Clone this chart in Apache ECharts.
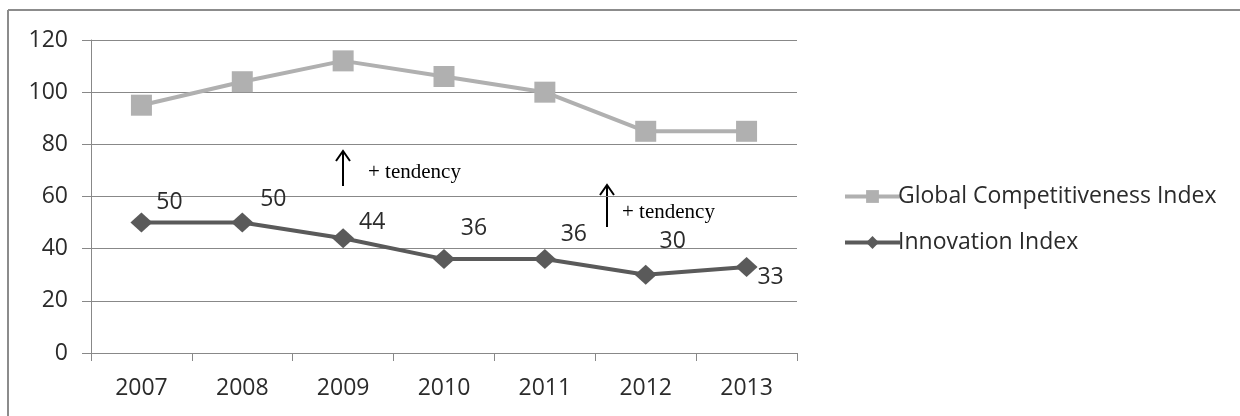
<!DOCTYPE html>
<html>
<head>
<meta charset="utf-8">
<script src="https://cdn.jsdelivr.net/npm/echarts@6/dist/echarts.min.js"></script>
<style>
  html, body { margin: 0; padding: 0; background: #fff; }
  #chart { width: 1240px; height: 416px; }
</style>
</head>
<body>
<div id="chart"></div>
<script>
const years = ['2007', '2008', '2009', '2010', '2011', '2012', '2013']
const gciValues = [95, 104, 112, 106, 100, 85, 85]
const innovationValues = [50, 50, 44, 36, 36, 30, 33]
const yTicks = [0, 20, 40, 60, 80, 100, 120]

// where each value label sits relative to its diamond (px)
const labelOffsets = [[28, -20], [31, -23], [29, -16], [30, -31], [29, -25], [27, -33], [24, 11]]

const font = 'Open Sans'
const textColor = '#2b2b2b'

const chart = echarts.init(document.getElementById('chart'))

const arrow = (x, yTop, yBottom) => [
  {
    type: 'line',
    shape: { x1: x, y1: yTop, x2: x, y2: yBottom },
    style: { stroke: '#000', lineWidth: 2 }
  },
  {
    type: 'polyline',
    shape: { points: [[x - 7, yTop + 10], [x, yTop], [x + 7, yTop + 10]] },
    style: { stroke: '#000', lineWidth: 2, fill: null }
  }
]

chart.setOption({
  backgroundColor: '#fff',
  animation: false,
  grid: { left: 91, right: 443, top: 40, bottom: 63 },
  legend: {
    orient: 'vertical',
    left: 838,
    top: 180,
    itemWidth: 55,
    itemHeight: 16,
    itemGap: 23,
    lineStyle: { width: 4 },
    textStyle: { fontFamily: font, fontSize: 23, color: textColor, padding: [0, 0, 0, -7] },
    data: ['Global Competitiveness Index', 'Innovation Index']
  },
  xAxis: {
    type: 'category',
    data: years,
    boundaryGap: true,
    axisLine: { lineStyle: { color: '#888', width: 1 } },
    axisTick: { show: true, length: 8, lineStyle: { color: '#888' } },
    axisLabel: { fontFamily: font, fontSize: 23, color: textColor, margin: 24 }
  },
  yAxis: {
    type: 'value',
    min: yTicks[0],
    max: yTicks[yTicks.length - 1],
    interval: 20,
    axisLine: { show: true, lineStyle: { color: '#888', width: 1 } },
    axisTick: { show: true, length: 9, lineStyle: { color: '#888' } },
    axisLabel: { fontFamily: font, fontSize: 23, color: textColor, margin: 23 },
    splitLine: { lineStyle: { color: '#888', width: 1 } }
  },
  series: [
    {
      name: 'Global Competitiveness Index',
      type: 'line',
      data: gciValues,
      symbol: 'rect',
      symbolSize: 21,
      lineStyle: { color: '#b0b0b0', width: 4 },
      itemStyle: { color: '#b0b0b0' }
    },
    {
      name: 'Innovation Index',
      type: 'line',
      data: innovationValues.map((v, i) => ({
        value: v,
        label: { offset: labelOffsets[i] }
      })),
      symbol: 'diamond',
      symbolSize: [22, 20],
      lineStyle: { color: '#5a5a5a', width: 4 },
      itemStyle: { color: '#5a5a5a' },
      label: {
        show: true,
        position: 'inside',
        fontFamily: font,
        fontSize: 23,
        color: textColor
      }
    }
  ],
  graphic: [
    // outer frame (top and left edges only visible)
    { type: 'line', shape: { x1: 8, y1: 10, x2: 1240, y2: 10 }, style: { stroke: '#8c8c8c', lineWidth: 2 } },
    { type: 'line', shape: { x1: 8, y1: 10, x2: 8, y2: 416 }, style: { stroke: '#8c8c8c', lineWidth: 2 } },
    ...arrow(343, 151, 186),
    {
      type: 'text',
      left: 368,
      top: 162,
      style: { text: '+ tendency', font: '21px "Liberation Serif"', fill: '#000' }
    },
    ...arrow(607, 185, 227),
    {
      type: 'text',
      left: 622,
      top: 202,
      style: { text: '+ tendency', font: '21px "Liberation Serif"', fill: '#000' }
    }
  ]
})
</script>
</body>
</html>
